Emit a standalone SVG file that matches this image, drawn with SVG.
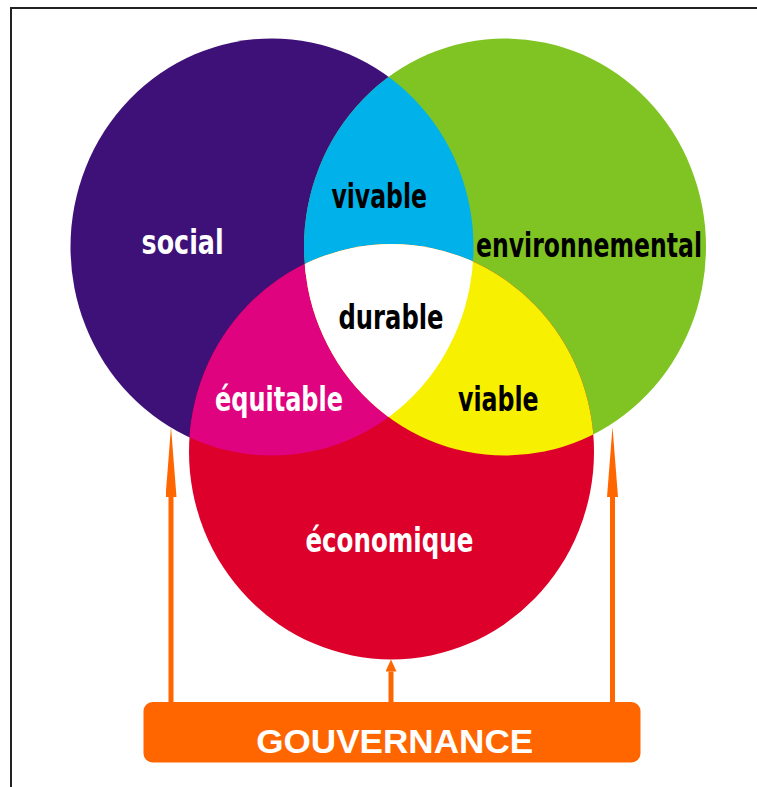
<svg xmlns="http://www.w3.org/2000/svg" width="757" height="787" viewBox="0 0 757 787">
  <style>
    .lbl { font-family: "DejaVu Sans Condensed", "DejaVu Sans", "Liberation Sans Narrow", sans-serif; font-weight: bold; font-size: 34px; text-anchor: middle; }
    .w { fill: #ffffff; }
    .k { fill: #000000; }
    .gov { font-family: "Liberation Sans", Arial, sans-serif; font-weight: bold; font-size: 34px; fill: #ffffff; text-anchor: middle; }
    .conn { stroke: #ff6600; stroke-width: 5; fill: none; }
  </style>
  <defs>
    <clipPath id="clipSocial"><ellipse cx="272" cy="247" rx="201.5" ry="208.6"/></clipPath>
    <clipPath id="clipEnv"><ellipse cx="505" cy="247" rx="201" ry="208.6"/></clipPath>
    <marker id="headLong" viewBox="0 0 70 11" markerWidth="70" markerHeight="11" refX="0" refY="5.5" orient="auto" markerUnits="userSpaceOnUse">
      <path d="M0,0 L70,5.5 L0,11 Z" fill="#ff6600"/>
    </marker>
    <marker id="headShort" viewBox="0 0 12 11" markerWidth="12" markerHeight="11" refX="0" refY="5.5" orient="auto" markerUnits="userSpaceOnUse">
      <path d="M0,0 L12,5.5 L0,11 Z" fill="#ff6600"/>
    </marker>
  </defs>

  <rect x="0" y="0" width="757" height="787" fill="#ffffff"/>
  <path d="M11,787 V8 H757" fill="none" stroke="#222222" stroke-width="2"/>

  <g id="social">
    <ellipse cx="272" cy="247" rx="201.5" ry="208.6" fill="#3e1178"/>
  </g>
  <g id="environnemental">
    <ellipse cx="505" cy="247" rx="201" ry="208.6" fill="#80c423"/>
  </g>
  <g id="economique">
    <ellipse cx="391.5" cy="451.7" rx="202.5" ry="207.7" fill="#dc002a"/>
  </g>
  <g id="vivable">
    <ellipse cx="505" cy="247" rx="201" ry="208.6" fill="#00b2e9" clip-path="url(#clipSocial)"/>
  </g>
  <g id="equitable">
    <ellipse cx="391.5" cy="451.7" rx="202.5" ry="207.7" fill="#e0037f" clip-path="url(#clipSocial)"/>
  </g>
  <g id="viable">
    <ellipse cx="391.5" cy="451.7" rx="202.5" ry="207.7" fill="#f7f000" clip-path="url(#clipEnv)"/>
  </g>
  <g id="durable">
    <g clip-path="url(#clipSocial)">
      <ellipse cx="391.5" cy="451.7" rx="202.5" ry="207.7" fill="#ffffff" clip-path="url(#clipEnv)"/>
    </g>
  </g>

  <g id="labels">
    <text class="lbl w" x="182.6" y="254" textLength="82" lengthAdjust="spacingAndGlyphs">social</text>
    <text class="lbl k" x="379.2" y="208.3" textLength="95.6" lengthAdjust="spacingAndGlyphs">vivable</text>
    <text class="lbl k" x="589" y="257.3" textLength="226" lengthAdjust="spacingAndGlyphs">environnemental</text>
    <text class="lbl k" x="391" y="329" textLength="105" lengthAdjust="spacingAndGlyphs">durable</text>
    <text class="lbl w" x="279" y="410.7" textLength="128" lengthAdjust="spacingAndGlyphs">équitable</text>
    <text class="lbl k" x="498.3" y="410.7" textLength="80.6" lengthAdjust="spacingAndGlyphs">viable</text>
    <text class="lbl w" x="389.4" y="551.7" textLength="168" lengthAdjust="spacingAndGlyphs">économique</text>
  </g>

  <g id="connectors">
    <line class="conn" x1="171" y1="703" x2="171" y2="497" marker-end="url(#headLong)"/>
    <line class="conn" x1="391" y1="703" x2="391" y2="671.5" marker-end="url(#headShort)"/>
    <line class="conn" x1="612.5" y1="703" x2="612.5" y2="497" marker-end="url(#headLong)"/>
  </g>

  <g id="gouvernance">
    <rect x="143.5" y="702" width="497" height="60.5" rx="9" ry="9" fill="#ff6600"/>
    <text class="gov" x="394.7" y="753.3" textLength="277" lengthAdjust="spacingAndGlyphs">GOUVERNANCE</text>
  </g>
</svg>
